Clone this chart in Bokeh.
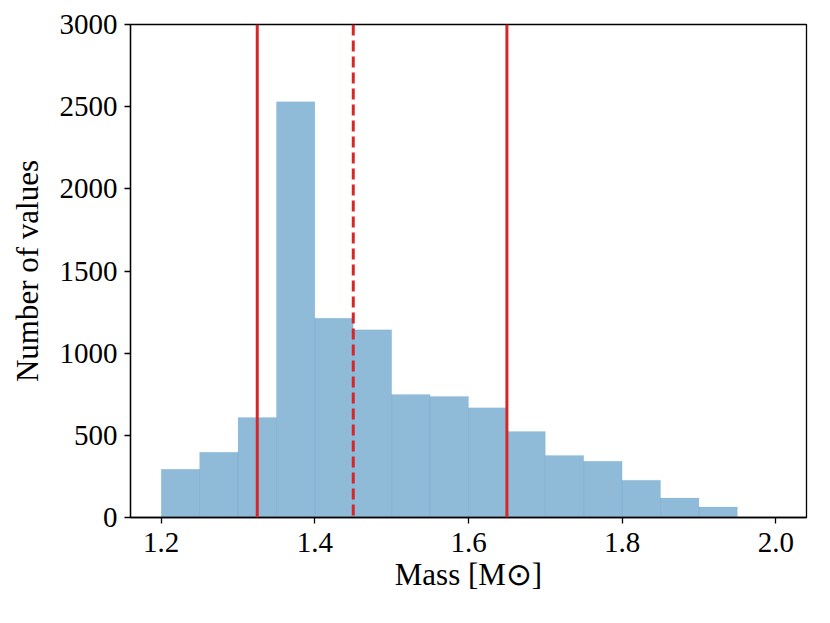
from bokeh.plotting import figure
from bokeh.models import Span, FixedTicker
from bokeh.embed import file_html
from bokeh.resources import INLINE

bin_left = [1.20, 1.25, 1.30, 1.35, 1.40, 1.45, 1.50, 1.55, 1.60, 1.65, 1.70, 1.75, 1.80, 1.85, 1.90, 1.95]
bin_width = 0.05
counts = [293, 397, 609, 2530, 1213, 1142, 749, 737, 668, 524, 378, 342, 227, 119, 64, 0]
lower_val = 1.325
median_val = 1.45
upper_val = 1.65
x_ticks = [1.2, 1.4, 1.6, 1.8, 2.0]
y_ticks = [0, 500, 1000, 1500, 2000, 2500, 3000]

FONT = "Liberation Serif"

p = figure(width=822, height=615, x_range=(1.16, 2.04), y_range=(0, 3000),
           output_backend="svg", toolbar_location=None,
           min_border_left=130, min_border_right=16, min_border_top=24, min_border_bottom=98)

right = [b + bin_width for b in bin_left]
p.quad(left=bin_left, right=right, bottom=0, top=counts,
       fill_color="#1f77b4", fill_alpha=0.5, line_color="#1f77b4", line_alpha=0.08, line_width=1)

for v, dash in [(lower_val, "solid"), (median_val, "11 5"), (upper_val, "solid")]:
    p.add_layout(Span(location=v, dimension="height", line_color="#d62728",
                      line_width=3, line_dash=dash))

p.grid.visible = False
p.outline_line_color = "black"
p.outline_line_width = 1.3
p.outline_line_alpha = 1

p.xaxis.ticker = FixedTicker(ticks=x_ticks)
p.yaxis.ticker = FixedTicker(ticks=y_ticks)
p.xaxis.major_label_overrides = {t: f"{t:.1f}" for t in x_ticks}
p.yaxis.major_label_overrides = {t: str(t) for t in y_ticks}

for ax in (p.xaxis, p.yaxis):
    ax.minor_tick_line_color = None
    ax.major_tick_in = 0
    ax.major_tick_out = 6
    ax.major_tick_line_width = 1.3
    ax.axis_line_width = 1.3
    ax.major_label_text_font = FONT
    ax.major_label_text_font_size = "29px"
    ax.major_label_text_color = "black"
    ax.axis_label_text_font = FONT
    ax.axis_label_text_font_size = "31px"
    ax.axis_label_text_font_style = "normal"
    ax.axis_label_text_color = "black"

p.xaxis.major_label_standoff = 9
p.yaxis.major_label_standoff = 7
p.xaxis.axis_label = "Mass [M⊙]"
p.xaxis.axis_label_standoff = 2
p.yaxis.axis_label = "Number of values"
p.yaxis.axis_label_standoff = 12

open("out.html", "w").write(file_html(p, INLINE))
